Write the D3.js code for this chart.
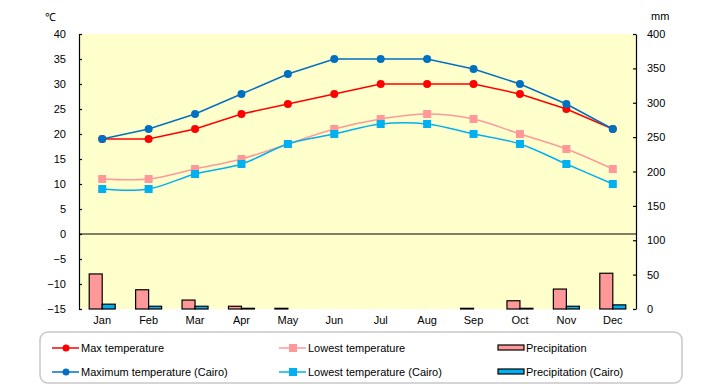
<!DOCTYPE html>
<html>
<head>
<meta charset="utf-8">
<script src="https://cdn.jsdelivr.net/npm/d3@7"></script>
<style>
  body { margin: 0; background: #fff; }
  svg text { font-family: "Liberation Sans", Arial, sans-serif; font-size: 11px; fill: #000; }
</style>
</head>
<body>
<div id="chart"></div>
<script>
// Data
const months = ['Jan','Feb','Mar','Apr','May','Jun','Jul','Aug','Sep','Oct','Nov','Dec']
const maxTemp = [19, 19, 21, 24, 26, 28, 30, 30, 30, 28, 25, 21]
const lowTemp = [11, 11, 13, 15, 18, 21, 23, 24, 23, 20, 17, 13]
const maxTempCairo = [19, 21, 24, 28, 32, 35, 35, 35, 33, 30, 26, 21]
const lowTempCairo = [9, 9, 12, 14, 18, 20, 22, 22, 20, 18, 14, 10]
const precip = [51, 28, 13, 4, 1, 0, 0, 0, 1, 12, 29, 52]
const precipCairo = [7, 4, 4, 1, 0, 0, 0, 0, 0, 1, 4, 6]
const tempTicks = [40, 35, 30, 25, 20, 15, 10, 5, 0, -5, -10, -15]
const precipTicks = [400, 350, 300, 250, 200, 150, 100, 50, 0]

// Layout
const width = 720, height = 385
const plotLeft = 79, plotRight = 636, plotTop = 34, plotBottom = 309

const svg = d3.select('#chart').append('svg')
    .attr('width', width)
    .attr('height', height)

// Scales
const xScale = d3.scaleBand().domain(months).range([plotLeft, plotRight])
const yTemp = d3.scaleLinear().domain([-15, 40]).range([plotBottom, plotTop])
const yPrecip = d3.scaleLinear().domain([0, 400]).range([plotBottom, plotTop])
const cx = m => xScale(m) + xScale.bandwidth() / 2

// Plot background
svg.append('rect')
    .attr('x', plotLeft).attr('y', plotTop)
    .attr('width', plotRight - plotLeft).attr('height', plotBottom - plotTop)
    .style('fill', '#FFFFCC')

// Zero line
svg.append('line')
    .attr('x1', plotLeft).attr('x2', plotRight)
    .attr('y1', yTemp(0)).attr('y2', yTemp(0))
    .style('stroke', '#000').style('stroke-width', 1.2)

// Precipitation bars
const barW = 13
svg.selectAll('.bar-precip')
    .data(precip)
    .enter().append('rect')
    .attr('class', 'bar-precip')
    .attr('x', (_, i) => cx(months[i]) - barW)
    .attr('y', d => yPrecip(d))
    .attr('width', barW)
    .attr('height', d => plotBottom - yPrecip(d))
    .style('fill', '#FF9999').style('stroke', '#000').style('stroke-width', 1.2)

svg.selectAll('.bar-cairo')
    .data(precipCairo)
    .enter().append('rect')
    .attr('class', 'bar-cairo')
    .attr('x', (_, i) => cx(months[i]))
    .attr('y', d => yPrecip(d))
    .attr('width', barW)
    .attr('height', d => plotBottom - yPrecip(d))
    .style('fill', '#00B0F0').style('stroke', '#000').style('stroke-width', 1.2)

// Line series
const straight = d3.line().x((_, i) => cx(months[i])).y(d => yTemp(d))
const smooth = d3.line().x((_, i) => cx(months[i])).y(d => yTemp(d)).curve(d3.curveCatmullRom.alpha(0))

function drawSeries(values, color, line, marker){
    const g = svg.append('g')
    g.append('path')
        .attr('d', line(values))
        .style('fill', 'none').style('stroke', color).style('stroke-width', 1.5)
    if (marker === 'circle'){
        g.selectAll('circle').data(values).enter().append('circle')
            .attr('cx', (_, i) => cx(months[i]))
            .attr('cy', d => yTemp(d))
            .attr('r', 4)
            .style('fill', color)
    } else {
        g.selectAll('rect').data(values).enter().append('rect')
            .attr('x', (_, i) => cx(months[i]) - 4)
            .attr('y', d => yTemp(d) - 4)
            .attr('width', 8).attr('height', 8)
            .style('fill', color)
    }
}

drawSeries(maxTemp, '#FF0000', straight, 'circle')
drawSeries(maxTempCairo, '#0070C0', straight, 'circle')
drawSeries(lowTemp, '#FF9999', smooth, 'square')
drawSeries(lowTempCairo, '#00B0F0', smooth, 'square')

// Axes
const yAxisLeft = d3.axisLeft(yTemp).tickValues(tempTicks).tickSize(-3).tickSizeOuter(0).tickPadding(13)
svg.append('g')
    .attr('transform', 'translate(' + plotLeft + ',0)')
    .call(yAxisLeft)
    .call(g => g.selectAll('path, line').style('stroke', '#000').style('stroke-width', 1.2))
    .call(g => g.selectAll('text').style('font-size', '11px').style('font-family', '"Liberation Sans", Arial, sans-serif'))

const yAxisRight = d3.axisRight(yPrecip).tickValues(precipTicks).tickSize(-3).tickSizeOuter(0).tickPadding(11)
svg.append('g')
    .attr('transform', 'translate(' + plotRight + ',0)')
    .call(yAxisRight)
    .call(g => g.selectAll('path, line').style('stroke', '#000').style('stroke-width', 1.2))
    .call(g => g.selectAll('text').style('font-size', '11px').style('font-family', '"Liberation Sans", Arial, sans-serif'))

// Month labels
svg.selectAll('.month')
    .data(months)
    .enter().append('text')
    .attr('class', 'month')
    .attr('x', d => cx(d))
    .attr('y', 324)
    .attr('text-anchor', 'middle')
    .text(d => d)

// Units
svg.append('text').attr('x', 45).attr('y', 21).text('℃')
svg.append('text').attr('x', 651).attr('y', 20).text('mm')

// Legend
svg.append('rect')
    .attr('x', 40).attr('y', 332)
    .attr('width', 642).attr('height', 51)
    .attr('rx', 8)
    .style('fill', '#fff').style('stroke', '#c8c8c8').style('stroke-width', 1.5)

const legendItems = [
    {label: 'Max temperature', color: '#FF0000', type: 'circle', x: 52, y: 348},
    {label: 'Maximum temperature (Cairo)', color: '#0070C0', type: 'circle', x: 52, y: 372},
    {label: 'Lowest temperature', color: '#FF9999', type: 'square', x: 279, y: 348},
    {label: 'Lowest temperature (Cairo)', color: '#00B0F0', type: 'square', x: 279, y: 372},
    {label: 'Precipitation', color: '#FF9999', type: 'bar', x: 498, y: 348},
    {label: 'Precipitation (Cairo)', color: '#00B0F0', type: 'bar', x: 498, y: 372}
]

const legend = svg.selectAll('.legend-item')
    .data(legendItems)
    .enter().append('g')
    .attr('class', 'legend-item')
    .attr('transform', d => 'translate(' + d.x + ',' + d.y + ')')

legend.each(function(d){
    const g = d3.select(this)
    if (d.type === 'bar'){
        g.append('rect')
            .attr('x', 0).attr('y', -3)
            .attr('width', 26).attr('height', 5)
            .style('fill', d.color).style('stroke', '#000').style('stroke-width', 1.2)
    } else {
        g.append('line')
            .attr('x1', 0).attr('x2', 27).attr('y1', 0).attr('y2', 0)
            .style('stroke', d.color).style('stroke-width', 1.5)
        if (d.type === 'circle'){
            g.append('circle').attr('cx', 14).attr('cy', 0).attr('r', 3.5).style('fill', d.color)
        } else {
            g.append('rect').attr('x', 10).attr('y', -4).attr('width', 8).attr('height', 8).style('fill', d.color)
        }
    }
    g.append('text')
        .attr('x', d.type === 'bar' ? 28 : 29)
        .attr('y', 4)
        .text(d.label)
})
</script>
</body>
</html>
